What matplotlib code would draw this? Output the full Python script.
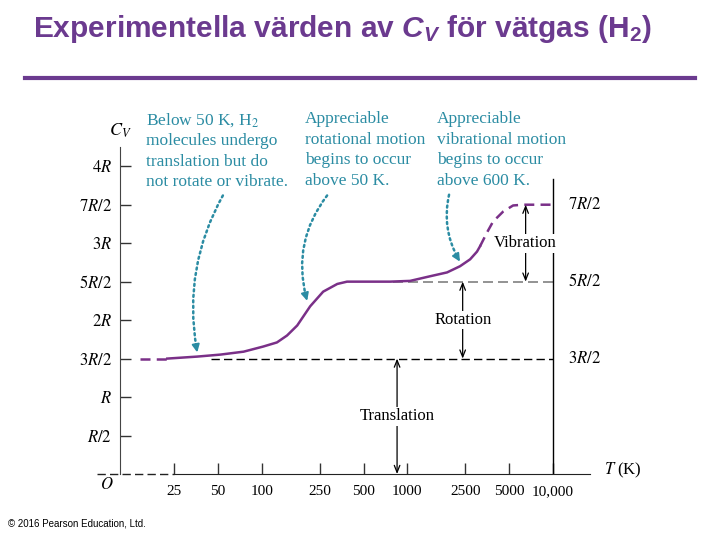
import matplotlib
matplotlib.use("Agg")
import matplotlib.pyplot as plt
import numpy as np
from matplotlib.lines import Line2D
from matplotlib.ticker import NullLocator

plt.rcParams['font.family'] = ['Liberation Serif', 'DejaVu Serif']
plt.rcParams['mathtext.fontset'] = 'stix'
plt.rcParams['mathtext.rm'] = 'Liberation Sans:bold'
plt.rcParams['mathtext.it'] = 'Liberation Sans:bold:italic'
plt.rcParams['mathtext.bf'] = 'Liberation Sans:bold'

# measured C_V curve for H2 (T in K, C_V in units of R)
T_low = [14.6, 22.4]
cv_low = [1.50, 1.50]
T_mid = [22.4, 36, 52, 75, 102, 127, 149, 175, 215, 264, 330, 385, 473,
         761, 1045, 1433, 1875, 2300, 2700, 3010, 3160]
cv_mid = [1.50, 1.526, 1.552, 1.59, 1.656, 1.71, 1.80, 1.93, 2.18, 2.37,
          2.47, 2.50, 2.50, 2.50, 2.51, 2.57, 2.62, 2.70, 2.79, 2.89, 2.96]
T_high = [3160, 3530, 3880, 4550, 5330, 6240, 10000]
cv_high = [2.96, 3.14, 3.28, 3.41, 3.49, 3.50, 3.50]

x_ticks = [25, 50, 100, 250, 500, 1000, 2500, 5000, 10000]
x_labels = ['25', '50', '100', '250', '500', '1000', '2500', '5000', '10,000']
y_ticks = [0.5, 1, 1.5, 2, 2.5, 3, 3.5, 4]
y_labels = ['$R/2$', '$R$', '$3R/2$', '$2R$', '$5R/2$', '$3R$', '$7R/2$', '$4R$']

levels = [1.5, 2.5, 3.5]
level_labels = ['$3R/2$', '$5R/2$', '$7R/2$']

arrow_T = [850, 2400, 6500]
arrow_lo = [0, 1.5, 2.5]
arrow_hi = [1.5, 2.5, 3.5]
arrow_text = ['Translation', 'Rotation', 'Vibration']

notes = ['Below 50 K, H$_2$\nmolecules undergo\ntranslation but do\nnot rotate or vibrate.',
         'Appreciable\nrotational motion\nbegins to occur\nabove 50 K.',
         'Appreciable\nvibrational motion\nbegins to occur\nabove 600 K.']
note_x = [146, 305, 437]
note_from = [(54, 3.62), (281, 3.62), (1935, 3.63)]
note_to = [(36, 1.58), (205, 2.25), (2300, 2.76)]
note_rad = [0.18, 0.25, 0.2]

purple = '#7a3088'
teal = '#2b8ca3'
title_col = '#6b3a8f'

fig = plt.figure(figsize=(7.2, 5.4), dpi=100)
ax = fig.add_axes([120/720, 66/540, 470/720, 327/540])
ax.set_xscale('log')
ax.set_xlim(10.6, 18000)
ax.set_ylim(0, 4.25)

for s in ['top', 'right']:
    ax.spines[s].set_visible(False)
ax.spines['left'].set_color('#444444')
ax.spines['bottom'].set_bounds(25, 18000)
ax.spines['bottom'].set_color('#222222')

ax.set_xticks(x_ticks)
ax.set_xticklabels(x_labels)
ax.xaxis.set_minor_locator(NullLocator())
ax.set_yticks(y_ticks)
ax.set_yticklabels(y_labels)
ax.tick_params(axis='both', direction='in', length=8, width=1, color='#333333')
ax.tick_params(axis='x', labelsize=11, pad=8)
ax.tick_params(axis='y', labelsize=12, pad=6)

# broken part of the T axis
ax.plot([7.4, 25], [0, 0], color='#222222', lw=1, dashes=(6, 3), clip_on=False)

# reference levels and right boundary
ax.plot([45, 10000], [1.5, 1.5], color='black', lw=1, dashes=(6, 3))
ax.plot([800, 10000], [2.5, 2.5], color='#808080', lw=1.2, dashes=(6, 3))
ax.plot([10000, 10000], [0, 3.84], color='black', lw=1)
for lv, lab in zip(levels, level_labels):
    ax.text(12800, lv, lab, ha='left', va='center', fontsize=12)

# the curve
ax.plot(T_low, cv_low, color=purple, lw=1.8, dashes=(4, 2.5))
ax.plot(T_mid, cv_mid, color=purple, lw=1.8)
ax.plot(T_high, cv_high, color=purple, lw=1.8, dashes=(4, 2.5))

# contribution arrows
for t, lo, hi, lab in zip(arrow_T, arrow_lo, arrow_hi, arrow_text):
    ax.annotate('', xy=(t, hi), xytext=(t, lo),
                arrowprops=dict(arrowstyle='<->,head_length=0.5,head_width=0.2',
                                color='black', lw=0.9, shrinkA=0, shrinkB=0))
    ax.text(t, (lo + hi) / 2, lab, ha='center', va='center', fontsize=12,
            bbox=dict(facecolor='white', edgecolor='none', pad=1), zorder=5)

# notes with dotted arrows (dotted shaft, solid head)
for txt, nx in zip(notes, note_x):
    fig.text(nx/720, 1 - 111/540, txt, ha='left', va='top', fontsize=12.5,
             color=teal, linespacing=1.38)
for p0, p1, r in zip(note_from, note_to, note_rad):
    cs = 'arc3,rad=%.2f' % r
    ax.annotate('', xy=p1, xytext=p0,
                arrowprops=dict(arrowstyle='-', color=teal, lw=1.8,
                                linestyle=(0, (0.8, 1.4)), connectionstyle=cs,
                                shrinkA=0, shrinkB=3))
    d = ax.transData.transform([p0, p1])
    chord_pt = np.hypot(*(d[1] - d[0])) * 72 / fig.dpi
    ax.annotate('', xy=p1, xytext=p0,
                arrowprops=dict(arrowstyle='-|>,head_length=0.45,head_width=0.22',
                                color=teal, lw=1.4, connectionstyle=cs,
                                shrinkA=chord_pt - 4, shrinkB=0))

ax.text(-0.028, -0.035, '$O$', transform=ax.transAxes, ha='center', va='center', fontsize=12)
ax.text(0, 1.05, '$C_V$', transform=ax.transAxes, ha='center', va='center', fontsize=13)
ax.text(1.03, 0.01, '$T$ (K)', transform=ax.transAxes, ha='left', va='center', fontsize=12)

fig.text(33/720, 1 - 29/540, 'Experimentella värden av $C_V$ för vätgas (H$_2$)',
         ha='left', va='center', fontsize=21.5, fontweight='bold', color=title_col,
         family='Liberation Sans', math_fontfamily='custom')
fig.add_artist(Line2D([25/720, 695/720], [1 - 78/540] * 2, lw=3, color=title_col))
fig.text(8/720, 1 - 524/540, '© 2016 Pearson Education, Ltd.', ha='left', va='center',
         fontsize=7, family='Liberation Sans')

fig.savefig('out.png', dpi=100)
